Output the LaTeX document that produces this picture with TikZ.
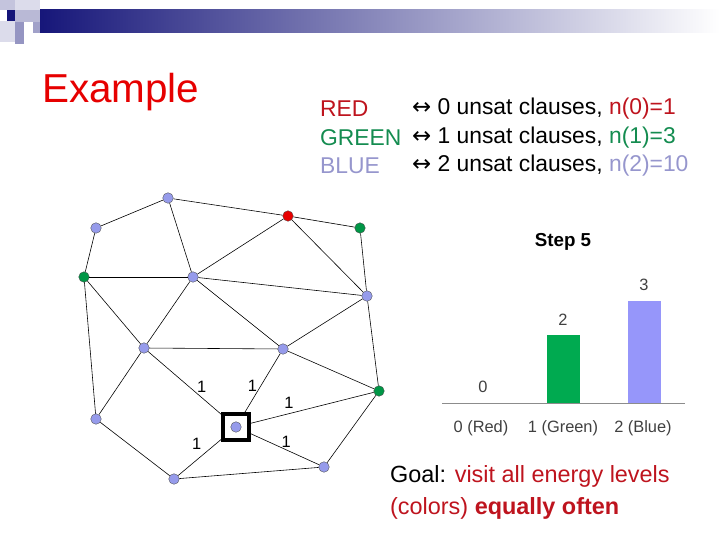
\documentclass[tikz,border=0pt]{standalone}
\usepackage{fontspec}
\setmainfont{Liberation Sans}
\newfontfamily\symfont{DejaVu Sans}
\usetikzlibrary{calc}
\definecolor{nodeblue}{RGB}{150,155,235}
\definecolor{nodegreen}{RGB}{0,150,70}
\definecolor{nodered}{RGB}{230,0,0}
\definecolor{txtred}{RGB}{190,20,30}
\definecolor{txtgreen}{RGB}{20,140,80}
\definecolor{txtblue}{RGB}{150,150,205}
\definecolor{barblue}{RGB}{150,150,250}
\definecolor{bargreen}{RGB}{0,170,80}
\definecolor{navy}{RGB}{20,20,120}
\newcommand{\lrarr}{{\symfont ↔}}
\tikzset{
  vtx/.style={circle,draw=black!70,line width=0.3pt,inner sep=0pt,minimum size=9pt,fill=nodeblue},
  vg/.style={vtx,fill=nodegreen},
  vr/.style={vtx,fill=nodered},
  lbl/.style={font=\fontsize{14}{14}\selectfont,inner sep=0pt},
  legend/.style={anchor=west,font=\fontsize{19.5}{19.5}\selectfont},
  axlbl/.style={font=\fontsize{14}{14}\selectfont,text=black!75}
}
\begin{document}
\begin{tikzpicture}[x=0.03cm,y=-0.03cm]
\useasboundingbox (0,0) rectangle (720,540);
% header
\shade[left color=navy,right color=white] (33,10) rectangle (720,33);
\fill[navy!25] (0,0) rectangle (15,10);
\fill[navy!15] (15,0) rectangle (40,10);
\fill[navy] (7,10) rectangle (15,21);
\fill[navy!30] (15,10) rectangle (40,22);
\fill[navy!45] (15,22) rectangle (24,33);
\fill[navy!40] (33,22) rectangle (40,33);
\fill[navy!15] (0,21) rectangle (15,42);
\fill[navy!45] (15,33) rectangle (24,44);
\node[anchor=west,font=\fontsize{34.5}{34.5}\selectfont,text=nodered] (title) at (38,92) {Example};
% legend
\node[legend,text=txtred] (lr) at (316,109) {RED};
\node[legend] (tr) at (408,109) {\lrarr\ 0 unsat clauses, \textcolor{txtred}{n(0)=1}};
\node[legend,text=txtgreen] (lg) at (316,138) {GREEN};
\node[legend] (tg) at (408,138) {\lrarr\ 1 unsat clauses, \textcolor{txtgreen}{n(1)=3}};
\node[legend,text=txtblue] (lb) at (316,166) {BLUE};
\node[legend] (tb) at (408,166) {\lrarr\ 2 unsat clauses, \textcolor{txtblue}{n(2)=10}};
% graph
\node[vtx] (a) at (96,228) {};
\node[vtx] (b) at (168,198) {};
\node[vr] (r) at (288,216) {};
\node[vg] (g1) at (360,228) {};
\node[vg] (g2) at (84,277) {};
\node[vtx] (c) at (193,277) {};
\node[vtx] (d) at (367,296) {};
\node[vtx] (e) at (144,348) {};
\node[vtx] (f) at (283,349) {};
\node[vg] (g3) at (379,391) {};
\node[vtx] (h) at (96,419) {};
\node[vtx] (s) at (236,427) {};
\node[vtx] (i) at (174,479) {};
\node[vtx] (j) at (324,467) {};
\foreach \u/\v in {a/b,a/g2,b/r,b/c,r/g1,r/c,r/d,g1/d,g2/c,g2/e,g2/h,c/d,c/e,c/f,d/f,d/g3,e/f,e/h,f/g3,g3/j,h/i,i/j}
  \draw[line width=0.5pt] (\u) -- (\v);
\draw[line width=0.5pt] (s) -- node[lbl,pos=0.36,above=4pt] {1} (e);
\draw[line width=0.5pt] (s) -- node[lbl,pos=0.53,left=3pt] {1} (f);
\draw[line width=0.5pt] (s) -- node[lbl,pos=0.36,above=4pt] {1} (g3);
\draw[line width=0.5pt] (s) -- node[lbl,pos=0.5,above left=3pt] {1} (i);
\draw[line width=0.5pt] (s) -- node[lbl,pos=0.58,above=2pt] {1} (j);
\draw[line width=4pt,fill=white] (223,414) rectangle (249,440);
\node[vtx] (s2) at (s) {};
% chart
\node[font=\bfseries\fontsize{16}{16}\selectfont] (step) at (563,242) {Step 5};
\fill[bargreen] (547,335) rectangle (580,403);
\fill[barblue] (628,301) rectangle (661,403);
\draw[black!45,line width=0.6pt] (442,403) -- (685,403);
\node[axlbl] (v0) at (483,387) {0};
\node[axlbl] (v1) at (563,320) {2};
\node[axlbl] (v2) at (644,285) {3};
\node[axlbl] (x0) at (481,428) {0 (Red)};
\node[axlbl] (x1) at (563,428) {1 (Green)};
\node[axlbl] (x2) at (643,428) {2 (Blue)};
% goal
\node[anchor=north west,align=left,font=\fontsize{20}{28}\selectfont] (goal) at (386,461)
  {Goal: \textcolor{txtred}{visit all energy levels}\\\textcolor{txtred}{(colors)} \textcolor{txtred}{\bfseries equally often}};
\end{tikzpicture}
\end{document}
